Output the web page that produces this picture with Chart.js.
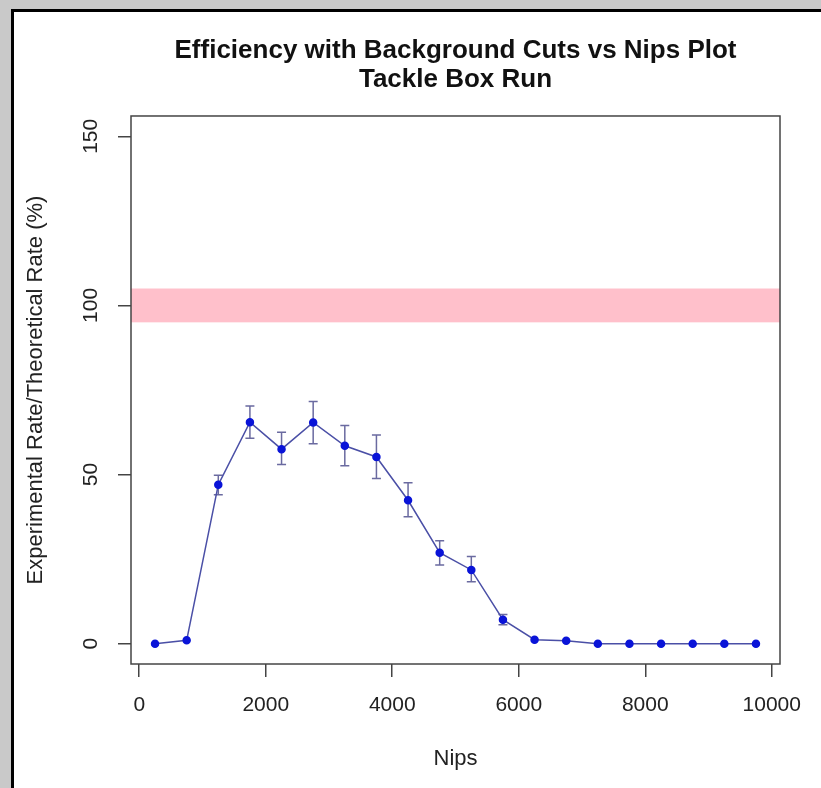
<!DOCTYPE html>
<html>
<head>
  <meta charset="UTF-8">
  <title>Efficiency with Background Cuts vs Nips Plot</title>
  <style>
    html, body {
      margin: 0;
      overflow: hidden;
      background: #c9c9c9;
    }
    #panel {
      position: absolute;
      left: 11px;
      top: 9px;
      width: 840px;
      height: 820px;
      box-sizing: border-box;
      background: #fff;
      border: 3px solid #000;
    }
    #chart {
      position: absolute;
      left: 0;
      top: 0;
    }
  </style>
  <script src="https://cdn.jsdelivr.net/npm/chart.js"></script>
</head>
<body>
  <div id="panel"></div>
  <canvas id="chart" width="821" height="788"></canvas>
  <script>
    // values
    const nips = [250, 750, 1250, 1750, 2250, 2750, 3250, 3750, 4250, 4750,
                  5250, 5750, 6250, 6750, 7250, 7750, 8250, 8750, 9250, 9750];
    const efficiency = [0, 1, 47, 65.5, 57.5, 65.4, 58.5, 55.2, 42.4, 26.9,
                        21.8, 7.1, 1.2, 0.9, 0, 0, 0, 0, 0, 0];
    const errHigh = [0, 1, 49.8, 70.3, 62.5, 71.6, 64.5, 61.7, 47.6, 30.4,
                     25.8, 8.6, 1.2, 0.9, 0, 0, 0, 0, 0, 0];
    const errLow = [0, 1, 44, 60.7, 53, 59.1, 52.6, 48.8, 37.5, 23.3,
                    18.3, 5.6, 1.2, 0.9, 0, 0, 0, 0, 0, 0];
    const band = [95, 105];   // expected-rate band
    const xTicks = [0, 2000, 4000, 6000, 8000, 10000];
    const yTicks = [0, 50, 100, 150];
    const titleLines = ['Efficiency with Background Cuts vs Nips Plot', 'Tackle Box Run'];

    const family = "'Liberation Sans', Arial, Helvetica, sans-serif";
    Chart.defaults.font.family = family;
    Chart.defaults.color = '#222';

    // pink band, error bars and the box round the plot
    const extras = {
      id: 'extras',
      beforeDatasetsDraw(chart) {
        const {ctx, chartArea: a, scales: {x, y}} = chart;
        const top = y.getPixelForValue(band[1]);
        const bottom = y.getPixelForValue(band[0]);
        ctx.save();
        ctx.fillStyle = '#ffc0cb';
        ctx.fillRect(a.left, top, a.right - a.left, bottom - top);

        ctx.strokeStyle = '#6a6aa0';
        ctx.lineWidth = 1.5;
        nips.forEach((n, i) => {
          if (errHigh[i] - errLow[i] < 0.5) return;
          const px = x.getPixelForValue(n);
          const hi = y.getPixelForValue(errHigh[i]);
          const lo = y.getPixelForValue(errLow[i]);
          ctx.beginPath();
          ctx.moveTo(px, hi); ctx.lineTo(px, lo);
          ctx.moveTo(px - 4.5, hi); ctx.lineTo(px + 4.5, hi);
          ctx.moveTo(px - 4.5, lo); ctx.lineTo(px + 4.5, lo);
          ctx.stroke();
        });
        ctx.restore();
      },
      afterDraw(chart) {
        const {ctx, chartArea: a} = chart;
        ctx.save();
        ctx.strokeStyle = '#444';
        ctx.lineWidth = 1.5;
        ctx.strokeRect(a.left, a.top, a.right - a.left, a.bottom - a.top);
        ctx.restore();
      }
    };

    new Chart(document.getElementById('chart').getContext('2d'), {
      type: 'line',
      data: {
        datasets: [{
          data: nips.map((n, i) => ({x: n, y: efficiency[i]})),
          borderColor: '#4a4fa6',
          borderWidth: 1.5,
          pointRadius: 3.5,
          pointBackgroundColor: '#0a14d8',
          pointBorderColor: '#0a14d8',
          tension: 0
        }]
      },
      options: {
        responsive: false,
        animation: false,
        layout: {
          padding: {left: 12, top: 10, right: 41, bottom: 0}
        },
        plugins: {
          legend: {display: false},
          tooltip: {enabled: false},
          title: {
            display: true,
            text: titleLines,
            fullSize: false,
            color: '#111',
            font: {size: 26, weight: 'bold', lineHeight: 1.12},
            padding: {top: 26, bottom: 21.75}
          }
        },
        scales: {
          x: {
            type: 'linear',
            min: -130,
            max: 10130,
            afterBuildTicks(s) { s.ticks = xTicks.map(v => ({value: v})); },
            afterFit(s) { s.height = 124; },
            border: {display: false},
            grid: {drawOnChartArea: false, tickLength: 13, color: '#444', lineWidth: 1.5},
            ticks: {
              maxRotation: 0,
              autoSkip: false,
              padding: 16,
              font: {size: 21},
              callback: v => String(v)
            },
            title: {
              display: true,
              text: 'Nips',
              font: {size: 22},
              padding: {top: 0, bottom: 16}
            }
          },
          y: {
            min: -6,
            max: 156,
            afterBuildTicks(s) { s.ticks = yTicks.map(v => ({value: v})); },
            afterFit(s) { s.width = 119; },
            border: {display: false},
            grid: {drawOnChartArea: false, tickLength: 13, color: '#444', lineWidth: 1.5},
            ticks: {
              minRotation: 90,
              maxRotation: 90,
              autoSkip: false,
              crossAlign: 'center',
              padding: 9.5,
              font: {size: 21},
              callback: v => String(v)
            },
            title: {
              display: true,
              text: 'Experimental Rate/Theoretical Rate (%)',
              font: {size: 22},
              padding: {top: 11, bottom: 0}
            }
          }
        }
      },
      plugins: [extras]
    });
  </script>
</body>
</html>
